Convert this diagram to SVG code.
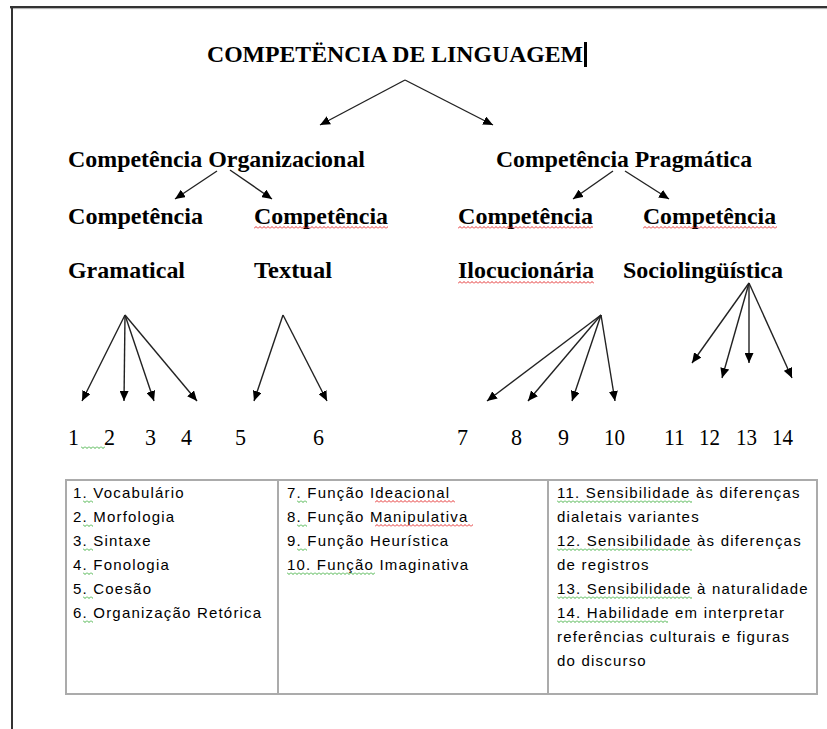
<svg xmlns="http://www.w3.org/2000/svg" width="827" height="729" viewBox="0 0 827 729">
<style>
.b{font-family:"Liberation Serif","Times New Roman",serif;font-weight:bold;font-size:24px;fill:#000}
.n{font-family:"Liberation Serif","Times New Roman",serif;font-size:24px;fill:#000}
.t{font-family:"Liberation Sans",Arial,sans-serif;font-size:15px;letter-spacing:1.2px;fill:#000}
.c line{stroke:#222;stroke-width:1.4;marker-end:url(#ah)}
.sr{fill:url(#wr)}
.sg{fill:url(#wg)}
</style>
<defs>
<marker id="ah" markerUnits="userSpaceOnUse" markerWidth="11" markerHeight="9" refX="10" refY="4.5" orient="auto" viewBox="0 0 11 9">
<path d="M0,0 L10,4.5 L0,9 z" fill="#000"/>
</marker>
<pattern id="wr" width="4" height="3" patternUnits="userSpaceOnUse"><path d="M0,2.5 L2,0.5 L4,2.5" fill="none" stroke="#e21a1a" stroke-width="0.9"/></pattern>
<pattern id="wg" width="4" height="3" patternUnits="userSpaceOnUse"><path d="M0,0.5 L2,2.5 L4,0.5" fill="none" stroke="#2ea82e" stroke-width="0.9"/></pattern>
</defs>
<rect width="827" height="729" fill="#fff"/>
<g id="page-frame">
<line x1="10" y1="7" x2="827" y2="7" stroke="#333" stroke-width="2"/>
<line x1="10" y1="8.6" x2="827" y2="8.6" stroke="#aaa" stroke-width="1"/>
<line x1="12" y1="6" x2="12" y2="729" stroke="#333" stroke-width="2"/>
</g>
<g id="title">
<text class="b" x="207" y="62" font-size="25" textLength="376" lengthAdjust="spacingAndGlyphs">COMPETËNCIA DE LINGUAGEM</text>
<rect x="584" y="42" width="3" height="25" fill="#000"/>
</g>
<g id="organizacional"><text class="b" x="68" y="167" textLength="297" lengthAdjust="spacingAndGlyphs">Competência Organizacional</text></g>
<g id="pragmatica"><text class="b" x="496" y="167" textLength="256" lengthAdjust="spacingAndGlyphs">Competência Pragmática</text></g>
<g id="gramatical">
<text class="b" x="68" y="224" textLength="135" lengthAdjust="spacingAndGlyphs">Competência</text>
<text class="b" x="68" y="278" textLength="117" lengthAdjust="spacingAndGlyphs">Gramatical</text>
</g>
<g id="textual">
<text class="b" x="254" y="224" textLength="134" lengthAdjust="spacingAndGlyphs">Competência</text>
<text class="b" x="254" y="278" textLength="78" lengthAdjust="spacingAndGlyphs">Textual</text>
<rect class="sr" transform="translate(254,226)" width="134" height="3"/>
</g>
<g id="ilocucionaria">
<text class="b" x="458" y="224" textLength="135" lengthAdjust="spacingAndGlyphs">Competência</text>
<text class="b" x="458" y="278" textLength="136" lengthAdjust="spacingAndGlyphs">Ilocucionária</text>
<rect class="sr" transform="translate(458,226)" width="135" height="3"/>
<rect class="sr" transform="translate(458,281)" width="136" height="3"/>
</g>
<g id="sociolinguistica">
<text class="b" x="643" y="224" textLength="133" lengthAdjust="spacingAndGlyphs">Competência</text>
<text class="b" x="623" y="278" textLength="160" lengthAdjust="spacingAndGlyphs">Sociolingüística</text>
<rect class="sr" transform="translate(643,226)" width="134" height="3"/>
</g>
<g id="numbers">
<text class="n" x="68" y="445" textLength="11" lengthAdjust="spacingAndGlyphs">1</text>
<text class="n" x="104" y="445" textLength="11" lengthAdjust="spacingAndGlyphs">2</text>
<text class="n" x="145" y="445" textLength="11" lengthAdjust="spacingAndGlyphs">3</text>
<text class="n" x="181" y="445" textLength="11" lengthAdjust="spacingAndGlyphs">4</text>
<text class="n" x="235" y="445" textLength="11" lengthAdjust="spacingAndGlyphs">5</text>
<text class="n" x="313" y="445" textLength="11" lengthAdjust="spacingAndGlyphs">6</text>
<text class="n" x="457" y="445" textLength="11" lengthAdjust="spacingAndGlyphs">7</text>
<text class="n" x="511" y="445" textLength="11" lengthAdjust="spacingAndGlyphs">8</text>
<text class="n" x="558" y="445" textLength="11" lengthAdjust="spacingAndGlyphs">9</text>
<text class="n" x="604" y="445" textLength="21" lengthAdjust="spacingAndGlyphs">10</text>
<text class="n" x="664" y="445" textLength="21" lengthAdjust="spacingAndGlyphs">11</text>
<text class="n" x="699" y="445" textLength="21" lengthAdjust="spacingAndGlyphs">12</text>
<text class="n" x="736" y="445" textLength="21" lengthAdjust="spacingAndGlyphs">13</text>
<text class="n" x="772" y="445" textLength="21" lengthAdjust="spacingAndGlyphs">14</text>
<rect class="sg" transform="translate(81,446)" width="24" height="3"/>
</g>
<g id="connectors" class="c">
<line x1="405" y1="80" x2="320" y2="125"/>
<line x1="405" y1="80" x2="493" y2="125"/>
<line x1="217" y1="171" x2="175" y2="199"/>
<line x1="230" y1="170" x2="272" y2="199"/>
<line x1="613" y1="171" x2="573" y2="199"/>
<line x1="625" y1="171" x2="669" y2="199"/>
<line x1="125" y1="315" x2="82" y2="401"/>
<line x1="125" y1="315" x2="124" y2="401"/>
<line x1="125" y1="315" x2="154" y2="401"/>
<line x1="125" y1="315" x2="197" y2="401"/>
<line x1="283" y1="315" x2="254" y2="401"/>
<line x1="283" y1="315" x2="327" y2="401"/>
<line x1="601" y1="315" x2="487" y2="401"/>
<line x1="601" y1="315" x2="528" y2="401"/>
<line x1="601" y1="315" x2="572" y2="401"/>
<line x1="601" y1="315" x2="615" y2="401"/>
<line x1="749" y1="283" x2="692" y2="363"/>
<line x1="749" y1="283" x2="722" y2="378"/>
<line x1="749" y1="283" x2="749" y2="363"/>
<line x1="749" y1="283" x2="792" y2="378"/>
</g>
<g id="legend-table">
<rect x="66" y="480" width="751" height="214" fill="#fff" stroke="#ababab" stroke-width="2"/>
<line x1="278" y1="480" x2="278" y2="694" stroke="#ababab" stroke-width="2"/>
<line x1="548" y1="480" x2="548" y2="694" stroke="#ababab" stroke-width="2"/>
<g id="col-organizacional">
<text class="t" x="73" y="498">1. Vocabulário</text>
<text class="t" x="73" y="522">2. Morfologia</text>
<text class="t" x="73" y="546">3. Sintaxe</text>
<text class="t" x="73" y="570">4. Fonologia</text>
<text class="t" x="73" y="594">5. Coesão</text>
<text class="t" x="73" y="618">6. Organização Retórica</text>
<rect class="sg" transform="translate(83,500)" width="10" height="3"/>
<rect class="sg" transform="translate(83,524)" width="10" height="3"/>
<rect class="sg" transform="translate(83,548)" width="10" height="3"/>
<rect class="sg" transform="translate(83,572)" width="10" height="3"/>
<rect class="sg" transform="translate(83,596)" width="10" height="3"/>
<rect class="sg" transform="translate(83,620)" width="10" height="3"/>
</g>
<g id="col-ilocucionaria">
<text class="t" x="287" y="498">7. Função Ideacional</text>
<text class="t" x="287" y="522">8. Função Manipulativa</text>
<text class="t" x="287" y="546">9. Função Heurística</text>
<text class="t" x="287" y="570">10. Função Imaginativa</text>
<rect class="sg" transform="translate(297,500)" width="10" height="3"/>
<rect class="sg" transform="translate(297,524)" width="10" height="3"/>
<rect class="sg" transform="translate(297,548)" width="10" height="3"/>
<rect class="sg" transform="translate(287,572)" width="88" height="3"/>
<rect class="sr" transform="translate(375,500)" width="80" height="3"/>
<rect class="sr" transform="translate(375,524)" width="98" height="3"/>
</g>
<g id="col-sociolinguistica">
<text class="t" x="557" y="498">11. Sensibilidade às diferenças</text>
<text class="t" x="557" y="522">dialetais variantes</text>
<text class="t" x="557" y="546">12. Sensibilidade às diferenças</text>
<text class="t" x="557" y="570">de registros</text>
<text class="t" x="557" y="594">13. Sensibilidade à naturalidade</text>
<text class="t" x="557" y="618">14. Habilidade em interpretar</text>
<text class="t" x="557" y="642">referências culturais e figuras</text>
<text class="t" x="557" y="666">do discurso</text>
<rect class="sg" transform="translate(557,500)" width="135" height="3"/>
<rect class="sg" transform="translate(557,548)" width="135" height="3"/>
<rect class="sg" transform="translate(557,596)" width="135" height="3"/>
<rect class="sg" transform="translate(557,620)" width="111" height="3"/>
</g>
</g>
</svg>
